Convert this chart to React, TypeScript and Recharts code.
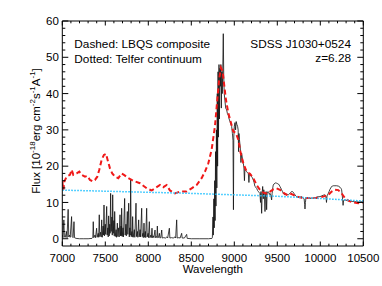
import React from "react";
import { LineChart, Line, XAxis, YAxis } from "recharts";

// Wavelength ticks
const X_MAJOR = [7000, 7500, 8000, 8500, 9000, 9500, 10000, 10500];
const X_ALL = [7000, 7100, 7200, 7300, 7400, 7500, 7600, 7700, 7800, 7900, 8000, 8100, 8200, 8300, 8400, 8500, 8600, 8700, 8800, 8900, 9000, 9100, 9200, 9300, 9400, 9500, 9600, 9700, 9800, 9900, 10000, 10100, 10200, 10300, 10400, 10500];
const Y_MAJOR = [0, 10, 20, 30, 40, 50, 60];
const Y_ALL = [0, 2, 4, 6, 8, 10, 12, 14, 16, 18, 20, 22, 24, 26, 28, 30, 32, 34, 36, 38, 40, 42, 44, 46, 48, 50, 52, 54, 56, 58, 60];

// Observed spectrum [wavelength, flux]
const spectrumW = [
  7000, 7008, 7018, 7024, 7035, 7048, 7055, 7068, 7075, 7085, 7092, 7108, 7114, 7125, 7136, 7142, 7160, 7200, 7250, 7300, 7345,
  7355, 7360, 7366, 7380, 7386, 7399, 7405, 7418, 7423, 7430, 7436, 7446, 7452, 7458, 7464, 7474, 7479, 7485, 7491, 7500, 7505,
  7516, 7522, 7530, 7534, 7539, 7546, 7552, 7556, 7562, 7568, 7577, 7581, 7586, 7592, 7600, 7604, 7609, 7616, 7626, 7631, 7640,
  7646, 7656, 7661, 7671, 7677, 7684, 7687, 7690, 7697, 7706, 7711, 7725, 7731, 7740, 7745, 7756, 7762, 7772, 7779, 7785, 7790,
  7795, 7801, 7810, 7813, 7818, 7824, 7838, 7843, 7857, 7863, 7874, 7878, 7888, 7894, 7905, 7910, 7923, 7929, 7938, 7942, 7950,
  7956, 7966, 7970, 7981, 7987, 7998, 8002, 8012, 8018, 8030, 8035, 8043, 8049, 8060, 8065, 8078, 8084, 8095, 8100, 8105, 8111,
  8120, 8129, 8135, 8145, 8156, 8162, 8180, 8200, 8215, 8225, 8245, 8251, 8270, 8290, 8310, 8318, 8330, 8336, 8355, 8370, 8388,
  8394, 8420, 8446, 8452, 8500, 8600, 8700, 8740, 8745, 8752, 8756, 8762, 8767, 8772, 8777, 8782, 8787, 8792, 8797, 8802, 8806,
  8811, 8816, 8822, 8827, 8833, 8838, 8844, 8849, 8855, 8860, 8866, 8872, 8877, 8883, 8891, 8900, 8911, 8920, 8930, 8940, 8950,
  8960, 8969, 8978, 8985, 8990, 8994, 9000, 9008, 9015, 9022, 9030, 9038, 9045, 9050, 9054, 9060, 9070, 9077, 9085, 9095, 9105,
  9112, 9118, 9124, 9133, 9143, 9153, 9163, 9170, 9176, 9182, 9192, 9202, 9210, 9221, 9230, 9240, 9250, 9260, 9270, 9279, 9288,
  9298, 9305, 9310, 9318, 9324, 9330, 9337, 9343, 9350, 9357, 9363, 9370, 9376, 9382, 9390, 9400, 9408, 9415, 9424, 9434, 9440,
  9447, 9453, 9462, 9473, 9482, 9492, 9502, 9512, 9522, 9531, 9540, 9550, 9560, 9570, 9580, 9589, 9600, 9608, 9618, 9628, 9637,
  9647, 9657, 9667, 9676, 9686, 9696, 9705, 9715, 9725, 9735, 9744, 9754, 9764, 9774, 9783, 9793, 9802, 9812, 9818, 9822, 9827,
  9833, 9841, 9860, 9880, 9900, 9919, 9940, 9960, 9980, 9996, 10015, 10035, 10054, 10065, 10072, 10078, 10093, 10102, 10112,
  10122, 10132, 10141, 10151, 10170, 10190, 10210, 10229, 10240, 10248, 10255, 10260, 10265, 10270, 10278, 10287, 10300, 10320,
  10345, 10370, 10400, 10422, 10450, 10475, 10500,
];
const spectrumF = [
  1.0, 0.3, 5.2, 0.5, 0.4, 2.0, 0.3, 8.1, 0.5, 1.0, 0.4, 6.1, 0.6, 0.3, 4.7, 0.3, 0.1, 0.0, 0.0, 0.0, 0.1,
  0.4, 4.7, 0.3, 1.0, 0.3, 2.9, 0.4, 1.5, 0.4, 6.6, 0.6, 1.8, 0.5, 5.2, 0.4, 3.5, 1.0, 9.3, 0.8, 4.0, 1.2,
  8.9, 1.0, 3.0, 0.5, 6.3, 0.8, 4.0, 1.5, 12.5, 2.0, 6.0, 1.0, 12.1, 1.5, 5.0, 0.8, 7.5, 0.6, 2.5, 0.4, 4.3,
  0.6, 3.0, 0.5, 6.6, 0.8, 3.5, 0.8, 8.4, 0.6, 3.0, 0.5, 11.1, 1.0, 4.0, 0.8, 7.5, 1.2, 9.8, 0.5, 3.0, 1.0,
  16.2, 0.6, 2.0, 0.5, 6.1, 0.4, 2.5, 0.4, 9.8, 0.6, 2.0, 0.4, 5.2, 0.5, 2.5, 0.5, 8.4, 0.6, 1.5, 0.3, 4.3,
  0.4, 2.0, 0.3, 8.4, 0.5, 1.5, 0.3, 4.7, 0.3, 1.0, 0.3, 2.9, 0.3, 0.8, 0.3, 2.4, 0.3, 0.6, 0.3, 3.5, 0.3,
  0.4, 1.5, 0.2, 0.3, 2.4, 0.2, 0.3, 0.2, 0.5, 0.2, 2.9, 0.2, 0.3, 0.2, 0.5, 0.2, 5.2, 0.2, 0.3, 0.2, 1.5,
  0.2, 0.2, 1.2, 0.1, 0.0, 0.0, 0.0, 0.1, 0.3, 6, 1, 11, 3, 16, 5, 24, 9, 30, 14, 40, 20,
  46, 28, 48, 33, 47, 42, 48, 36, 46, 40, 47, 56.5, 45, 40, 38, 36, 35.5, 34.5, 34, 33, 32.3,
  31.5, 31, 29, 27, 8, 28, 31, 32, 30, 32.3, 31.5, 31, 30, 24, 29, 27.3, 25, 21, 23.6, 22, 20.8,
  19.5, 16, 19.4, 18.8, 18.5, 18.2, 18, 15.5, 17.8, 17.6, 17.3, 17.1, 16.8, 16.2, 15.5, 14.4, 14.2, 13.9, 13.3, 13, 12.8,
  12.5, 10, 13, 7, 12.5, 14.4, 11, 13.5, 12, 7.5, 12, 13, 8, 12.6, 13, 12.8, 12.2, 12.5, 12, 10.7, 12.5,
  14, 14.8, 15.1, 15.3, 15.4, 15.3, 15.2, 15.1, 14.8, 14.4, 14, 13.5, 13, 12.5, 12.2, 12.1, 12.3, 12.3, 12.2, 12.1, 12.3,
  12.5, 12.8, 13, 13, 12.8, 12.4, 12.1, 11.8, 11.6, 11.5, 11.5, 11.4, 11.4, 11.5, 11.6, 11.4, 11.2, 11, 9.5, 8.2, 10,
  11.3, 11.2, 11.2, 11.1, 11.2, 11.2, 11.3, 11.5, 11.6, 11.6, 11.8, 12, 12.1, 11.6, 10.0, 11.8, 12.5, 13, 13.6,
  14, 14.4, 14.5, 14.6, 14.6, 14.6, 14.5, 14.2, 13.9, 13.5, 12, 10.7, 9.2, 10.5, 10.6, 10.7, 10.6, 10.5,
  10.4, 10.3, 10.2, 10.2, 10.1, 10.2, 10.1,
];

// LBQS composite (dashed)
const lbqsW = [
  7000, 7012, 7025, 7050, 7089, 7109, 7128, 7167, 7198, 7225, 7264, 7291, 7322, 7353, 7380, 7407, 7430, 7457, 7484, 7508, 7527,
  7554, 7581, 7612, 7651, 7690, 7717, 7767, 7806, 7845, 7903, 7981, 8039, 8078, 8136, 8174, 8213, 8252, 8310, 8368, 8446, 8504,
  8562, 8620, 8659, 8698, 8736, 8775, 8802, 8826, 8845, 8864, 8880, 8903, 8930, 8957, 8988, 9019, 9047, 9074, 9105, 9143, 9182,
  9221, 9260, 9298, 9337, 9376, 9415, 9453, 9492, 9531, 9570, 9608, 9647, 9686, 9725, 9764, 9802, 9880, 9957, 10035, 10093,
  10132, 10170, 10209, 10248, 10287, 10326, 10384, 10442, 10500,
];
const lbqsF = [
  15.8, 13.5, 15.8, 17.1, 17.6, 19, 17.6, 18, 18.5, 17.6, 17.1, 17.3, 16.2, 15.8, 16.2, 17.1, 19, 21.7, 23.1, 23.4, 21.7,
  19.4, 18, 17.1, 16.7, 18, 17.6, 16.7, 16.2, 15.8, 15.3, 13.9, 13.3, 13.9, 14.8, 14.2, 14.8, 13.3, 12.5, 13, 13, 13.9,
  14.8, 16.7, 18.5, 20.8, 24.5, 31, 38.3, 44.3, 47.1, 46.2, 42.9, 38.3, 34.7, 32.3, 29.6, 29.1, 27.3, 23.6, 20.8, 18.5, 17.9,
  16.7, 14.8, 13.5, 12.7, 12.5, 13, 13.6, 13.9, 13.5, 12.7, 12.1, 12.5, 12.1, 11.6, 11.4, 11.2, 11.2, 11.2, 11.6, 12.1,
  13, 13.5, 13.4, 12.5, 11.2, 10.5, 10, 9.8, 10,
];

// Telfer continuum (dotted)
const telferW = [7000, 7500, 8000, 8500, 9000, 9500, 10000, 10500];
const telferF = [13.4, 13.1, 12.8, 12.5, 12.1, 11.7, 11.1, 10.4];

const spectrum = spectrumW.map((w, i) => ({ w, f: spectrumF[i] }));
const lbqs = lbqsW.map((w, i) => ({ w, f: lbqsF[i] }));
const telfer = telferW.map((w, i) => ({ w, f: telferF[i] }));

const FONT = "'Liberation Sans', Arial, Helvetica, sans-serif";

const BottomTick = (props: any) => {
  const { x, y, payload } = props;
  const v = payload.value;
  const major = X_MAJOR.includes(v);
  return (
    <g>
      <line x1={x} x2={x} y1={y} y2={y - (major ? 4.5 : 2.3)} stroke="#000" strokeWidth={1} />
      {major && (
        <text x={x} y={y + 15.6} textAnchor="middle" fontSize={11.5} fontFamily={FONT} fill="#000">
          {v}
        </text>
      )}
    </g>
  );
};

const TopTick = (props: any) => {
  const { x, y, payload } = props;
  const major = X_MAJOR.includes(payload.value);
  return <line x1={x} x2={x} y1={y} y2={y + (major ? 4.5 : 2.3)} stroke="#000" strokeWidth={1} />;
};

const LeftTick = (props: any) => {
  const { x, y, payload } = props;
  const v = payload.value;
  const major = Y_MAJOR.includes(v);
  return (
    <g>
      <line x1={x} x2={x + (major ? 6 : 3)} y1={y} y2={y} stroke="#000" strokeWidth={1} />
      {major && (
        <text x={x - 3.5} y={y + 4.2} textAnchor="end" fontSize={11.5} fontFamily={FONT} fill="#000">
          {v}
        </text>
      )}
    </g>
  );
};

const RightTick = (props: any) => {
  const { x, y, payload } = props;
  const major = Y_MAJOR.includes(payload.value);
  return <line x1={x} x2={x - (major ? 6 : 3)} y1={y} y2={y} stroke="#000" strokeWidth={1} />;
};

export default function App() {
  return (
    <div style={{ position: "absolute", left: 0, top: 0, width: 382, height: 286, background: "#fff" }}>
      <LineChart width={382} height={286} margin={{ top: 20, right: 17.7, bottom: 0, left: 0 }}>
        <XAxis
          xAxisId="b"
          dataKey="w"
          type="number"
          domain={[7000, 10500]}
          ticks={X_ALL}
          interval={0}
          height={40}
          tickSize={0}
          tickMargin={0}
          tick={<BottomTick />}
          axisLine={{ stroke: "#000", strokeWidth: 1 }}
          allowDataOverflow
        />
        <XAxis
          xAxisId="t"
          orientation="top"
          dataKey="w"
          type="number"
          domain={[7000, 10500]}
          ticks={X_ALL}
          interval={0}
          height={1}
          tickSize={0}
          tickMargin={0}
          tick={<TopTick />}
          axisLine={{ stroke: "#000", strokeWidth: 1 }}
          allowDataOverflow
        />
        <YAxis
          yAxisId="l"
          type="number"
          domain={[-2, 60]}
          ticks={Y_ALL}
          interval={0}
          width={62.3}
          tickSize={0}
          tickMargin={0}
          tick={<LeftTick />}
          axisLine={{ stroke: "#000", strokeWidth: 1 }}
          allowDataOverflow
        />
        <YAxis
          yAxisId="r"
          orientation="right"
          type="number"
          domain={[-2, 60]}
          ticks={Y_ALL}
          interval={0}
          width={1}
          tickSize={0}
          tickMargin={0}
          tick={<RightTick />}
          axisLine={{ stroke: "#000", strokeWidth: 1 }}
          allowDataOverflow
        />
        <Line
          xAxisId="b"
          yAxisId="l"
          data={spectrum}
          dataKey="f"
          type="linear"
          stroke="#111"
          strokeWidth={0.8}
          dot={false}
          activeDot={false}
          isAnimationActive={false}
        />
        <Line
          xAxisId="b"
          yAxisId="l"
          data={lbqs}
          dataKey="f"
          type="linear"
          stroke="#f01818"
          strokeWidth={2}
          strokeDasharray="5 3"
          dot={false}
          activeDot={false}
          isAnimationActive={false}
        />
        <Line
          xAxisId="b"
          yAxisId="l"
          data={telfer}
          dataKey="f"
          type="linear"
          stroke="#20c0ff"
          strokeWidth={1.5}
          strokeDasharray="1.5 1.5"
          dot={false}
          activeDot={false}
          isAnimationActive={false}
        />
      </LineChart>
      <svg
        width={382}
        height={286}
        style={{ position: "absolute", left: 0, top: 0, pointerEvents: "none" }}
        fontFamily={FONT}
        fill="#000"
      >
        <text x={74.3} y={47.6} fontSize={11.8}>Dashed: LBQS composite</text>
        <text x={74.3} y={62.8} fontSize={11.8}>Dotted: Telfer continuum</text>
        <text x={351} y={47.8} fontSize={11.8} textAnchor="end">SDSS J1030+0524</text>
        <text x={351} y={62} fontSize={11.8} textAnchor="end">z=6.28</text>
        <text x={212.8} y={272.5} fontSize={11.5} textAnchor="middle">Wavelength</text>
        <text transform="translate(39.5,131) rotate(-90)" textAnchor="middle" fontSize={11.5}>
          <tspan>Flux [10</tspan>
          <tspan fontSize={8} dy={-4.5}>-18</tspan>
          <tspan dy={4.5}>erg cm</tspan>
          <tspan fontSize={8} dy={-4.5}>-2</tspan>
          <tspan dy={4.5}>s</tspan>
          <tspan fontSize={8} dy={-4.5}>-1</tspan>
          <tspan dy={4.5}>A</tspan>
          <tspan fontSize={8} dy={-4.5}>-1</tspan>
          <tspan dy={4.5}>]</tspan>
        </text>
      </svg>
    </div>
  );
}
